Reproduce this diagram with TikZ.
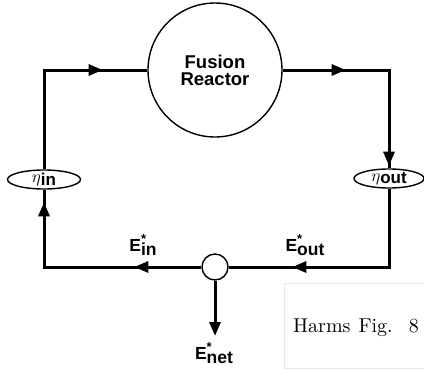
\documentclass[tikz,border=0pt]{standalone}
\usepackage{fontspec}
\usepackage{graphicx}
\newfontfamily\hv{Liberation Sans}
\usetikzlibrary{arrows.meta,decorations.markings,shapes.geometric}
\definecolor{boxpink}{RGB}{242,226,242}
\newcommand{\Elab}[1]{{\hv\bfseries\fontsize{17.5}{17.5}\selectfont E\makebox[0pt][l]{\raisebox{7.5pt}{\fontsize{13}{13}\selectfont *}}\raisebox{-4pt}{#1}}}
\newcommand{\etalab}[1]{\raisebox{2.5pt}{\fontsize{17}{17}\selectfont$\eta$}{\hv\bfseries\fontsize{17}{17}\selectfont #1}}
\tikzset{
  flow/.style={line width=3pt},
  thin outline/.style={draw, line width=1.4pt, inner sep=0pt},
  tipat/.style={postaction={decorate, decoration={markings, mark=at position #1 with {\arrow{Triangle[length=14pt,width=11pt]}}}}},
}
\begin{document}
\begin{tikzpicture}[x=1pt,y=-1pt]
\useasboundingbox (0,0) rectangle (424,370);
% nodes
\node[thin outline, circle, minimum size=134pt, align=center,
      font={\hv\bfseries\fontsize{18.5}{17}\selectfont}] (reactor) at (215,70) {Fusion\\Reactor};
\node[thin outline, circle, minimum size=26pt, fill=white] (junc) at (215,267) {};
\node[thin outline, ellipse, minimum width=73pt, minimum height=19pt] (ein) at (44,179.5) {\etalab{in}};
\node[thin outline, ellipse, minimum width=70pt, minimum height=19pt] (eout) at (389,178.5) {\etalab{out}};
\coordinate (tl) at (44,70);
\coordinate (tr) at (389,70);
\coordinate (br) at (389,267);
\coordinate (bl) at (44,267);
\coordinate (netend) at (215,336);
% connectors
\draw[flow, tipat=158pt] (ein.north) -- (tl) -- (reactor.west);
\draw[flow, tipat=63pt, tipat=202pt] (reactor.east) -- (tr) -- (eout.north);
\draw[flow, tipat=175pt] (eout.south) -- (br) -- (junc.east);
\draw[flow, tipat=67pt, tipat=222pt] (junc.west) -- (bl) -- (ein.south);
\draw[flow, -{Triangle[length=14pt,width=11pt]}] (junc.south) -- (netend);
% labels
\node (lin) at (143,245) {\Elab{in}};
\node (lout) at (305,245) {\Elab{out}};
\node (lnet) at (214,353) {\Elab{net}};
% caption box
\draw[boxpink, line width=0.8pt] (284,283) rectangle (440,368);
\node[anchor=base west, inner sep=0pt] (cap) at (293,332) {\scalebox{2.0}{\fontsize{10}{12}\selectfont Harms\hspace{4pt}Fig.\hspace{8pt}8}};
\end{tikzpicture}
\end{document}
